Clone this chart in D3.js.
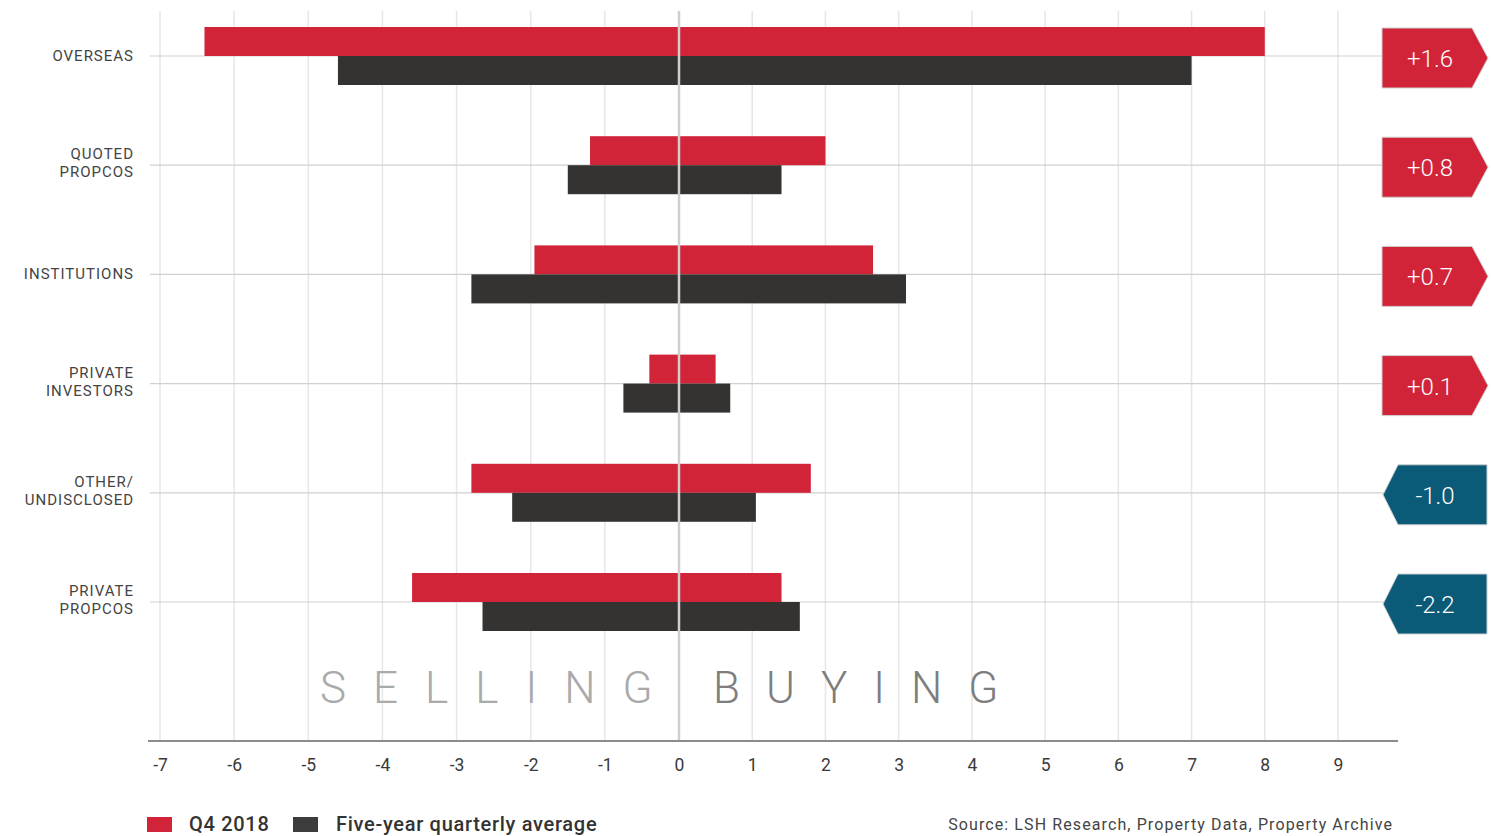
<!DOCTYPE html>
<html>
<head>
<meta charset="utf-8">
<script src="https://cdn.jsdelivr.net/npm/d3@7"></script>
<style>
  html, body { margin: 0; padding: 0; background: #fff; }
  svg { display: block; }
  text { font-family: "Roboto", "DejaVu Sans Condensed", sans-serif; }
</style>
</head>
<body>
<svg id="chart" width="1491" height="836"></svg>
<script>
// Investor activity by type: selling (negative) and buying (positive), £bn
const categories = [
  ["OVERSEAS"],
  ["QUOTED", "PROPCOS"],
  ["INSTITUTIONS"],
  ["PRIVATE", "INVESTORS"],
  ["OTHER/", "UNDISCLOSED"],
  ["PRIVATE", "PROPCOS"]
];
const q4Selling   = [-6.4, -1.2, -1.95, -0.4, -2.8, -3.6];
const q4Buying    = [ 8.0,  2.0,  2.65,  0.5,  1.8,  1.4];
const avgSelling  = [-4.6, -1.5, -2.8, -0.75, -2.25, -2.65];
const avgBuying   = [ 7.0,  1.4,  3.1,  0.7,  1.05,  1.65];
const tickValues  = [-7, -6, -5, -4, -3, -2, -1, 0, 1, 2, 3, 4, 5, 6, 7, 8, 9];
const seriesNames = ["Q4 2018", "Five-year quarterly average"];
const sourceText  = "Source: LSH Research, Property Data, Property Archive";

const RED = "#d12438", DARK = "#343332", BLUE = "#0b5a78";

const svg = d3.select("#chart");

const x = d3.scaleLinear().domain([-7, 0, 9]).range([160, 679, 1338]);
const keys = categories.map(c => c.join(" "));
const y = d3.scalePoint().domain(keys).range([56, 602]);
const barH = 29;

// vertical gridlines
svg.append("g").selectAll("line").data(tickValues.filter(d => d !== 0)).join("line")
  .attr("x1", d => x(d)).attr("x2", d => x(d))
  .attr("y1", 11).attr("y2", 741)
  .attr("stroke", "#e6e6e6").attr("stroke-width", 1.5);

// category baselines
svg.append("g").selectAll("line").data(keys).join("line")
  .attr("x1", 150).attr("x2", 1384)
  .attr("y1", d => y(d)).attr("y2", d => y(d))
  .attr("stroke", "#d0d0d0").attr("stroke-width", 1.2);

// bars
const rows = keys.map((k, i) => ({
  k,
  q4: [q4Selling[i], q4Buying[i]],
  avg: [avgSelling[i], avgBuying[i]],
  net: +(q4Buying[i] + q4Selling[i]).toFixed(1)
}));

const bars = svg.append("g");
rows.forEach(r => {
  [0, 1].forEach(j => {
    bars.append("rect")
      .attr("x", Math.min(x(0), x(r.q4[j])))
      .attr("width", Math.abs(x(r.q4[j]) - x(0)))
      .attr("y", y(r.k) - barH).attr("height", barH)
      .attr("fill", RED);
    bars.append("rect")
      .attr("x", Math.min(x(0), x(r.avg[j])))
      .attr("width", Math.abs(x(r.avg[j]) - x(0)))
      .attr("y", y(r.k)).attr("height", barH)
      .attr("fill", DARK);
  });
});

// zero line
svg.append("line")
  .attr("x1", x(0)).attr("x2", x(0)).attr("y1", 11).attr("y2", 741)
  .attr("stroke", "#cfcfcf").attr("stroke-width", 2.5);

// x axis
const axis = svg.append("g").attr("transform", "translate(0,741)")
  .call(d3.axisBottom(x).tickValues(tickValues).tickSize(0).tickPadding(18)
    .tickFormat(d => (d < 0 ? "-" + Math.abs(d) : String(d))));
axis.select(".domain").remove();
axis.selectAll("text").attr("font-size", 17.5).attr("fill", "#3a3a3a")
  .attr("font-family", "Roboto, sans-serif");
svg.append("line").attr("x1", 148).attr("x2", 1398).attr("y1", 741).attr("y2", 741)
  .attr("stroke", "#8c8c8c").attr("stroke-width", 2);

// category labels
const labels = svg.append("g");
categories.forEach((lines, i) => {
  const cy = y(keys[i]);
  const t = labels.append("text")
    .attr("text-anchor", "end").attr("font-size", 15)
    .attr("letter-spacing", 1).attr("fill", "#444");
  const lh = 18;
  lines.forEach((ln, li) => {
    t.append("tspan").attr("x", 134)
      .attr("y", cy + 5 + (li - (lines.length - 1) / 2) * lh - (lines.length > 1 ? 2 : 0))
      .text(ln);
  });
});

// net change badges
const badges = svg.append("g");
rows.forEach(r => {
  const c = y(r.k) + 2, h = 30;
  const pos = r.net >= 0;
  const pts = pos
    ? [[1382, c - h], [1472, c - h], [1488, c], [1472, c + h], [1382, c + h]]
    : [[1398, c - h], [1487, c - h], [1487, c + h], [1398, c + h], [1383, c]];
  badges.append("polygon")
    .attr("points", pts.map(p => p.join(",")).join(" "))
    .attr("fill", pos ? RED : BLUE)
    .attr("stroke", "#cfcfcf").attr("stroke-width", 1);
  badges.append("text")
    .attr("x", pos ? 1430 : 1435).attr("y", c + 9)
    .attr("text-anchor", "middle").attr("font-size", 24)
    .attr("font-weight", 300).attr("fill", "#fff")
    .text((pos ? "+" : "-") + Math.abs(r.net).toFixed(1));
});

// selling / buying captions
svg.append("text").attr("x", x(0) - 359).attr("y", 703)
  .attr("font-size", 44).attr("font-weight", 300).attr("letter-spacing", 27)
  .attr("fill", "#aaaaaa").text("SELLING");
svg.append("text").attr("x", x(0) + 34).attr("y", 703)
  .attr("font-size", 44).attr("font-weight", 300).attr("letter-spacing", 26)
  .attr("fill", "#7e7e7e").text("BUYING");

// legend
const legend = svg.append("g");
[[147, RED, 189], [293, "#3c3c3c", 336]].forEach(([sx, col, tx], i) => {
  legend.append("rect").attr("x", sx).attr("y", 817).attr("width", 25).attr("height", 15).attr("fill", col);
  legend.append("text").attr("x", tx).attr("y", 831).attr("font-size", 20)
    .attr("font-weight", 500).attr("letter-spacing", 0.7).attr("fill", "#333").text(seriesNames[i]);
});

// source
svg.append("text").attr("x", 1393).attr("y", 830).attr("text-anchor", "end")
  .attr("font-size", 16).attr("letter-spacing", 1.1).attr("fill", "#444").text(sourceText);
</script>
</body>
</html>
